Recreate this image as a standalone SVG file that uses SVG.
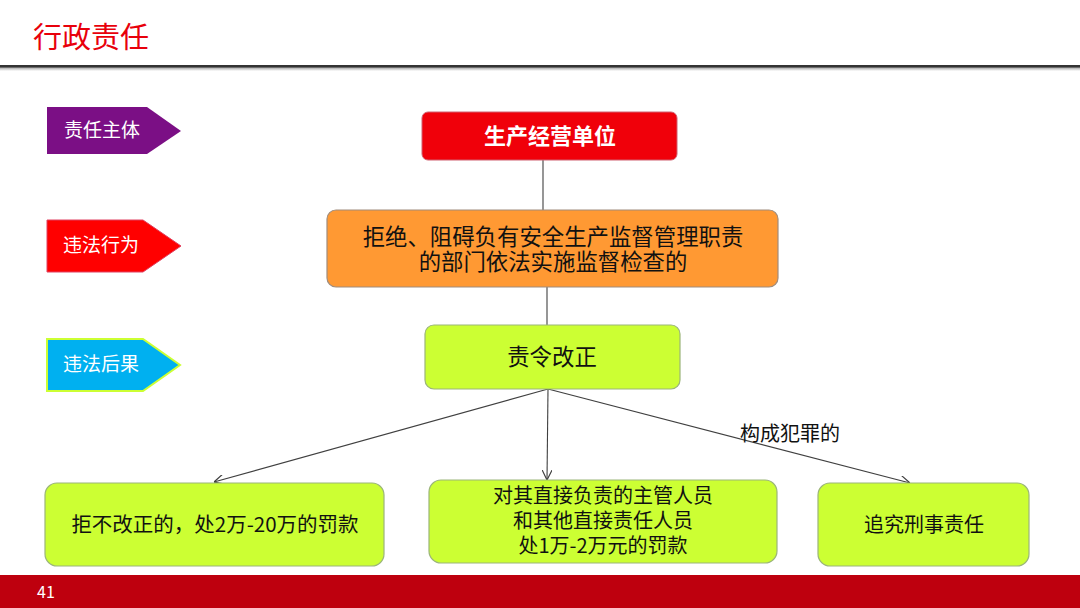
<svg xmlns="http://www.w3.org/2000/svg" width="1080" height="608" viewBox="0 0 1080 608">
<defs>
<marker id="arr" viewBox="0 0 10 10" refX="10" refY="5" markerWidth="10" markerHeight="10" markerUnits="userSpaceOnUse" orient="auto">
<path d="M0,0 L10,5 L0,10" fill="none" stroke="#404040" stroke-width="1.2"/>
</marker>
<linearGradient id="shadow" x1="0" y1="0" x2="0" y2="1">
<stop offset="0" stop-color="#999"/>
<stop offset="1" stop-color="#fff"/>
</linearGradient>
</defs>
<style>
text{font-family:"Noto Sans CJK SC","Liberation Sans",sans-serif;}
.tag{fill:#fff;font-size:19px;}
.lime{fill:#CCFF33;stroke:#9BB57A;stroke-width:1.2;}
.dark{fill:#111;font-size:20px;text-anchor:middle;}
.big{font-size:22.4px;}
.mid{font-size:20.5px;}
.conn{stroke:#404040;stroke-width:1.1;fill:none;}
</style>
<rect width="1080" height="608" fill="#fff"/>
<text x="33" y="48" font-size="29" fill="#E8000B">行政责任</text>
<rect x="0" y="67" width="1080" height="4" fill="url(#shadow)"/>
<rect x="0" y="65" width="1080" height="2.5" fill="#333"/>

<g id="tag1">
<path d="M47,107 H147 L181,131 L147,154 H47 Z" fill="#7B0F85"/>
<text class="tag" x="64" y="137">责任主体</text>
</g>
<g id="tag2">
<path d="M47,220 H143 L181,246 L143,272 H47 Z" fill="#FF0000" stroke="#E04060" stroke-width="1"/>
<text class="tag" x="63" y="252">违法行为</text>
</g>
<g id="tag3">
<path d="M47,339 H143 L180,365 L143,391 H47 Z" fill="#00B0F0" stroke="#CCFF33" stroke-width="2"/>
<text class="tag" x="63" y="371">违法后果</text>
</g>

<g id="connectors">
<line class="conn" x1="543" y1="160" x2="543" y2="210"/>
<line class="conn" x1="547" y1="287" x2="547" y2="325"/>
<line class="conn" x1="548" y1="389" x2="214" y2="482" marker-end="url(#arr)"/>
<line class="conn" x1="548" y1="389" x2="547" y2="480" marker-end="url(#arr)"/>
<line class="conn" x1="548" y1="389" x2="910" y2="483" marker-end="url(#arr)"/>
<text x="740" y="441" font-size="20" fill="#111">构成犯罪的</text>
</g>

<g id="n1">
<rect x="422" y="112" width="255" height="48" rx="6" fill="#F0000A" stroke="#D06070" stroke-width="1"/>
<text x="550" y="144" font-size="22" font-weight="bold" fill="#fff" text-anchor="middle">生产经营单位</text>
</g>
<g id="n2">
<rect x="327" y="210" width="451" height="77" rx="9" fill="#FF9933" stroke="#A08C7C" stroke-width="1.2"/>
<text class="dark big" x="553" y="245">拒绝、阻碍负有安全生产监督管理职责</text>
<text class="dark big" x="553" y="270">的部门依法实施监督检查的</text>
</g>
<g id="n3">
<rect class="lime" x="425" y="325" width="255" height="64" rx="9"/>
<text class="dark big" x="552" y="365">责令改正</text>
</g>
<g id="n4">
<rect class="lime" x="45" y="483" width="339" height="83" rx="12"/>
<text class="dark mid" x="215" y="532">拒不改正的，处2万-20万的罚款</text>
</g>
<g id="n5">
<rect class="lime" x="429" y="480" width="348" height="83" rx="12"/>
<text class="dark" x="603" y="503">对其直接负责的主管人员</text>
<text class="dark" x="603" y="528">和其他直接责任人员</text>
<text class="dark" x="603" y="553">处1万-2万元的罚款</text>
</g>
<g id="n6">
<rect class="lime" x="818" y="483" width="211" height="83" rx="12"/>
<text class="dark" x="924" y="532">追究刑事责任</text>
</g>

<rect x="0" y="575" width="1080" height="33" fill="#BE000E"/>
<text x="37" y="598" font-size="16" fill="#fff" font-family="Liberation Sans">41</text>
</svg>
